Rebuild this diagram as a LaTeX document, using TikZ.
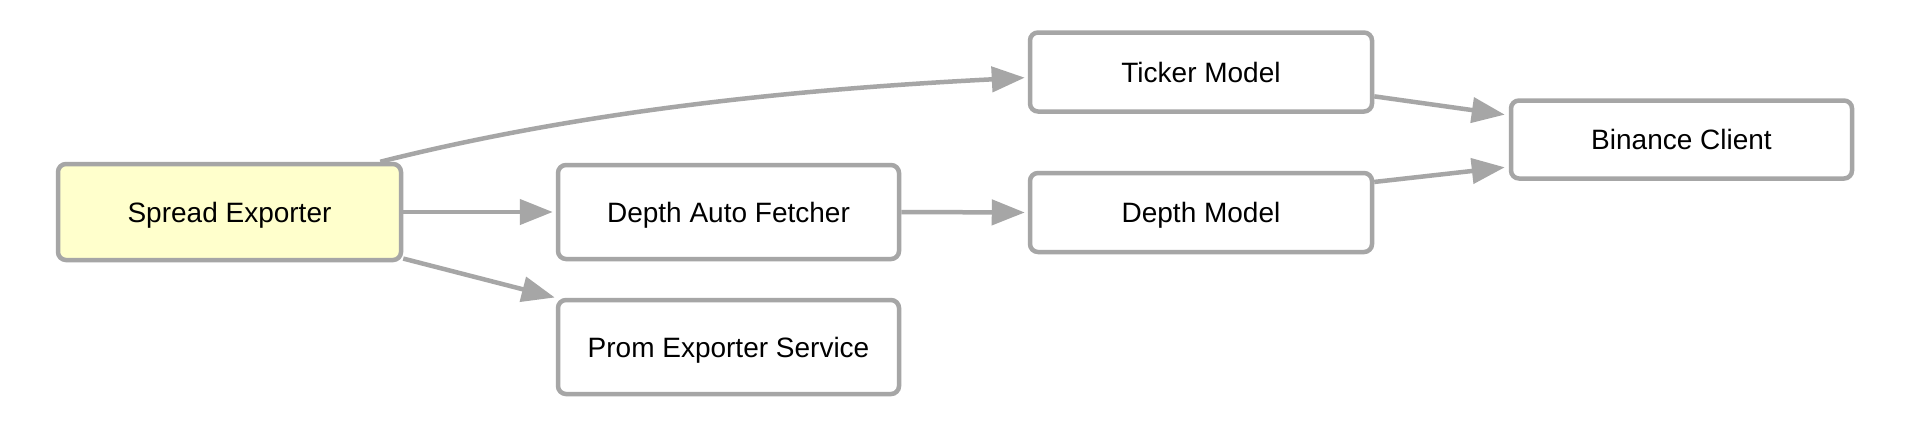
\documentclass[tikz,border=0pt]{standalone}
\usepackage{fontspec}
\setmainfont{Liberation Sans}
\usetikzlibrary{arrows.meta}
\definecolor{edgegray}{HTML}{A6A6A6}
\definecolor{hiyellow}{HTML}{FFFFCC}
\tikzset{
  box/.style={draw=edgegray, line width=4.5pt, rounded corners=8pt, fill=white,
    inner sep=0pt, align=center, text height=20pt, text depth=0pt,
    font=\fontsize{28}{34}\selectfont},
  conn/.style={draw=edgegray, line width=4.5pt,
    -{Triangle[length=33pt,width=25pt]}, color=edgegray},
}
\begin{document}
\begin{tikzpicture}[x=1pt,y=-1pt]
\useasboundingbox[fill=white] (0,0) rectangle (1910,432);
\node[box, fill=hiyellow, minimum width=343pt, minimum height=96pt] (se) at (229.5,212) {Spread Exporter};
\node[box, minimum width=341pt, minimum height=94pt] (daf) at (728.5,212) {Depth Auto Fetcher};
\node[box, minimum width=341pt, minimum height=94pt] (pes) at (728.5,347) {Prom Exporter Service};
\node[box, minimum width=342pt, minimum height=79pt] (tm) at (1201,72) {Ticker Model};
\node[box, minimum width=342pt, minimum height=79pt] (dm) at (1201,212.5) {Depth Model};
\node[box, minimum width=341pt, minimum height=78pt] (bc) at (1681.5,139.5) {Binance Client};

\draw[conn, shorten >=3pt] (se.east) -- (daf.west);
\draw[conn, shorten >=3pt] (daf.east) -- (dm.west);
\draw[conn, shorten >=1pt] (se.-15) -- (pes.north west);
\draw[conn, shorten >=4pt] (tm.-8) -- (bc.172);
\draw[conn, shorten >=4pt] (dm.10) -- (bc.189);
\draw[conn, shorten >=3pt] ([xshift=-23pt]se.north east) .. controls +(215,-54) and +(-215,11) .. ([yshift=-5.5pt]tm.west);
\end{tikzpicture}
\end{document}
